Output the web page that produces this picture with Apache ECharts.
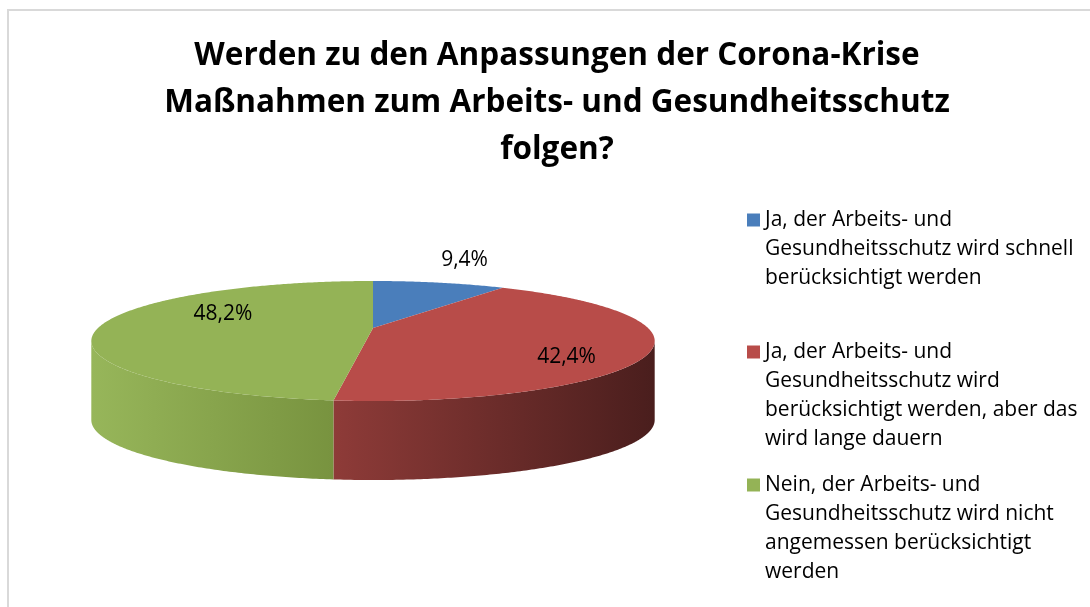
<!DOCTYPE html>
<html>
<head>
<meta charset="utf-8">
<script src="https://cdn.jsdelivr.net/npm/echarts@6/dist/echarts.min.js"></script>
<style>
  html, body { margin: 0; padding: 0; background: #fff; }
  #chart { width: 1090px; height: 607px; }
</style>
</head>
<body>
<div id="chart"></div>
<script>
const titleText = "Werden zu den Anpassungen der Corona-Krise\nMaßnahmen zum Arbeits- und Gesundheitsschutz\nfolgen?"

const categories = [
  "Ja, der Arbeits- und Gesundheitsschutz wird schnell berücksichtigt werden",
  "Ja, der Arbeits- und Gesundheitsschutz wird berücksichtigt werden, aber das wird lange dauern",
  "Nein, der Arbeits- und Gesundheitsschutz wird nicht angemessen berücksichtigt werden",
]

const legendLines = [
  ["Ja, der Arbeits- und", "Gesundheitsschutz wird schnell", "berücksichtigt werden"],
  ["Ja, der Arbeits- und", "Gesundheitsschutz wird", "berücksichtigt werden, aber das", "wird lange dauern"],
  ["Nein, der Arbeits- und", "Gesundheitsschutz wird nicht", "angemessen berücksichtigt", "werden"],
]

const shares = [9.4, 42.4, 48.2]

const colors = ["#4a7ebb", "#b84c49", "#94b356"]
const wallColors = [
  ["#3b6497", "#2c4b72"],
  ["#8e3b38", "#4a1e1d"],
  ["#97b65a", "#78933f"],
]

// pie geometry (pixels): tilted disc with a little perspective
const cx = 373
const cy = 328
const rx = 275
const ry = 57.2
const persp = 0.2167
const depth = 79
// label placement: [radius factor, vertical offset]
const labelPlace = [[1.5, -5], [0.71, 14], [0.55, -12]]

const FONT = "'Open Sans', Lato, sans-serif"
const total = shares.reduce((a, b) => a + b, 0)

function project(u, v, dy) {
  const s = 1 / (1 + persp * v)
  return [cx + rx * u * s, cy - ry * v * s + (dy || 0)]
}

function pt(theta, dy) {
  return project(Math.sin(theta), Math.cos(theta), dy)
}

function arc(from, to, dy) {
  const pts = []
  const steps = Math.max(2, Math.ceil((to - from) / 0.01))
  for (let k = 0; k <= steps; k++) {
    pts.push(pt(from + (to - from) * k / steps, dy))
  }
  return pts
}

// silhouette angles of the side wall
const wallFrom = Math.acos(-persp)
const wallTo = Math.PI * 2 - wallFrom

function renderSlice(i) {
  return function (params, api) {
    const before = shares.slice(0, i).reduce((a, b) => a + b, 0)
    const start = before / total * Math.PI * 2
    const end = (before + api.value(0)) / total * Math.PI * 2
    const children = []

    const s = Math.max(start, wallFrom)
    const e = Math.min(end, wallTo)
    if (s < e) {
      const wall = arc(s, e, 0).concat(arc(s, e, depth).reverse())
      children.push({
        type: "polygon",
        shape: { points: wall },
        style: {
          fill: {
            type: "linear", x: 0, y: 0, x2: 1, y2: 0,
            colorStops: [
              { offset: 0, color: wallColors[i][0] },
              { offset: 1, color: wallColors[i][1] },
            ],
          },
        },
      })
    }

    children.push({
      type: "polygon",
      shape: { points: [project(0, 0)].concat(arc(start, end, 0)) },
      style: { fill: colors[i] },
    })

    const mid = (start + end) / 2
    const r = labelPlace[i][0]
    const lp = project(r * Math.sin(mid), r * Math.cos(mid), labelPlace[i][1])
    children.push({
      type: "text",
      z2: 10,
      style: {
        text: api.value(0).toFixed(1).replace(".", ",") + "%",
        x: lp[0],
        y: lp[1],
        align: "center",
        verticalAlign: "middle",
        fontSize: 21,
        fontFamily: FONT,
        fill: "#000",
      },
    })

    return { type: "group", children }
  }
}

const lh = 29
const legendFirstLine = [219, 351, 484]

const chart = echarts.init(document.getElementById("chart"))

chart.setOption({
  animation: false,
  backgroundColor: "#fff",
  graphic: [
    {
      type: "rect",
      shape: { x: 8, y: 10, width: 1200, height: 700 },
      style: { fill: "none", stroke: "#d9d9d9", lineWidth: 2 },
      silent: true,
    },
  ],
  title: {
    text: titleText,
    left: 557,
    top: 33,
    textAlign: "center",
    padding: 0,
    textStyle: {
      fontFamily: FONT,
      fontWeight: "bold",
      fontSize: 31.5,
      lineHeight: 47,
      color: "#000",
    },
  },
  legend: categories.map((name, i) => {
    const n = legendLines[i].length
    return {
      data: [name],
      orient: "vertical",
      left: 747,
      top: legendFirstLine[i] - (n - 1) * lh - 13.5,
      padding: 0,
      icon: "rect",
      itemWidth: 13,
      itemHeight: 13,
      selectedMode: false,
      // blank lines on top keep the marker beside the first line
      formatter: () => new Array(n - 1).fill("").concat(legendLines[i]).join("\n"),
      textStyle: {
        fontFamily: FONT,
        fontSize: 21,
        lineHeight: lh,
        color: "#000",
      },
    }
  }),
  series: categories.map((name, i) => ({
    type: "custom",
    name: name,
    coordinateSystem: "none",
    itemStyle: { color: colors[i] },
    renderItem: renderSlice(i),
    data: [shares[i]],
  })),
})
</script>
</body>
</html>
